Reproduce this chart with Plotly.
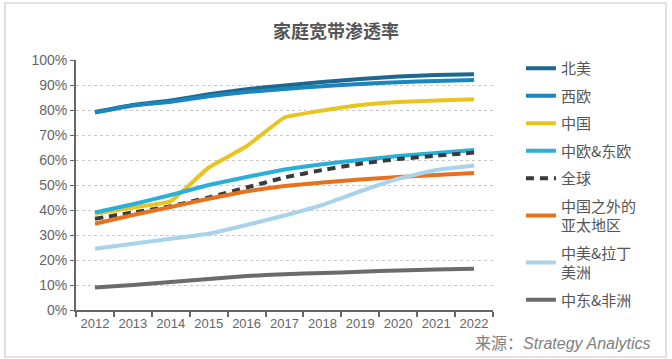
import plotly.graph_objects as go

years = ["2012", "2013", "2014", "2015", "2016", "2017", "2018", "2019", "2020", "2021", "2022"]

north_america = [79.2, 82.0, 83.8, 86.3, 88.3, 89.8, 91.2, 92.4, 93.4, 94.0, 94.3]
western_europe = [79.0, 81.8, 83.3, 85.5, 87.2, 88.4, 89.5, 90.4, 91.1, 91.6, 92.0]
china = [38.5, 41.0, 43.5, 57.0, 65.5, 77.0, 79.8, 82.0, 83.2, 83.8, 84.3]
cee = [39.0, 42.3, 46.0, 50.0, 53.2, 56.2, 58.3, 60.0, 61.6, 62.8, 64.0]
global_ = [36.5, 39.0, 41.5, 45.0, 49.0, 53.0, 56.0, 58.5, 60.4, 61.7, 63.0]
apac_ex_china = [34.5, 38.0, 41.2, 44.5, 47.5, 49.6, 51.0, 52.2, 53.2, 54.0, 54.8]
latam = [24.5, 26.5, 28.5, 30.5, 34.0, 37.8, 42.0, 47.5, 52.5, 56.0, 57.8]
mea = [9.0, 10.0, 11.2, 12.4, 13.6, 14.3, 14.8, 15.3, 15.8, 16.2, 16.5]

series = [
    ("北美", north_america, "#1d6790", "solid"),
    ("西欧", western_europe, "#1a86bd", "solid"),
    ("中国", china, "#e9c41f", "solid"),
    ("中欧&东欧", cee, "#2aafd9", "solid"),
    ("全球", global_, "#3a3a3c", "8px,6px"),
    ("中国之外的<br>亚太地区", apac_ex_china, "#e8711e", "solid"),
    ("中美&拉丁<br>美洲", latam, "#a8d3ea", "solid"),
    ("中东&非洲", mea, "#6b6b6b", "solid"),
]

fig = go.Figure()
for i, (name, vals, color, dash) in enumerate(series):
    fig.add_trace(go.Scatter(
        x=years, y=vals, name=name, mode="lines",
        line=dict(color=color, width=4, dash=dash, shape="spline", smoothing=0.3),
        legendgroup=f"g{i}",
    ))

fig.update_layout(
    width=672, height=359,
    margin=dict(l=76, r=179, t=60, b=49),
    paper_bgcolor="white", plot_bgcolor="white",
    font=dict(family="Liberation Sans, Noto Sans CJK SC, sans-serif", color="#666"),
    title=dict(text="家庭宽带渗透率", x=336/672, xref="container", xanchor="center",
               y=1 - 32/359, yref="container", yanchor="middle",
               font=dict(family="Noto Sans CJK SC", size=18, color="#555", weight="bold")),
    showlegend=True,
    legend=dict(x=1.067, xanchor="left", y=1.032, yanchor="top",
                font=dict(family="Noto Sans CJK SC", size=15, color="#555"),
                tracegroupgap=5, itemwidth=30, bgcolor="rgba(0,0,0,0)",
                maxheight=1),
    xaxis=dict(type="category", range=[-0.5, 10.5], tickson="boundaries",
               ticks="outside", ticklen=5, tickcolor="#666", tickwidth=1.5, tickangle=0,
               showline=True, linecolor="#666", linewidth=2, showgrid=False,
               tickfont=dict(size=13, color="#666")),
    yaxis=dict(range=[0, 100], dtick=10, ticksuffix="%", ticks="outside", ticklen=4,
               tickcolor="#666", showline=True, linecolor="#666", linewidth=2,
               showgrid=True, gridcolor="#c8c8c8", griddash="dot", gridwidth=1,
               zeroline=False, tickfont=dict(size=14, color="#666")),
)

fig.add_annotation(text="来源：<i>Strategy Analytics</i>", xref="paper", yref="paper",
                   x=(652 - 76) / 417, y=(310 - 343) / 250, xanchor="right", yanchor="middle",
                   showarrow=False, font=dict(family="Liberation Sans, Noto Sans CJK SC", size=16, color="#808080"))

fig.add_shape(type="rect", xref="paper", yref="paper",
              x0=(5 - 76) / 417, x1=(666 - 76) / 417, y0=(310 - 357) / 250, y1=(310 - 3) / 250,
              line=dict(color="#d8d8d8", width=1.5), layer="below")

fig.write_html("out.html", config={"displayModeBar": False},
               post_script="document.body.style.margin='0';document.body.style.padding='0';")
